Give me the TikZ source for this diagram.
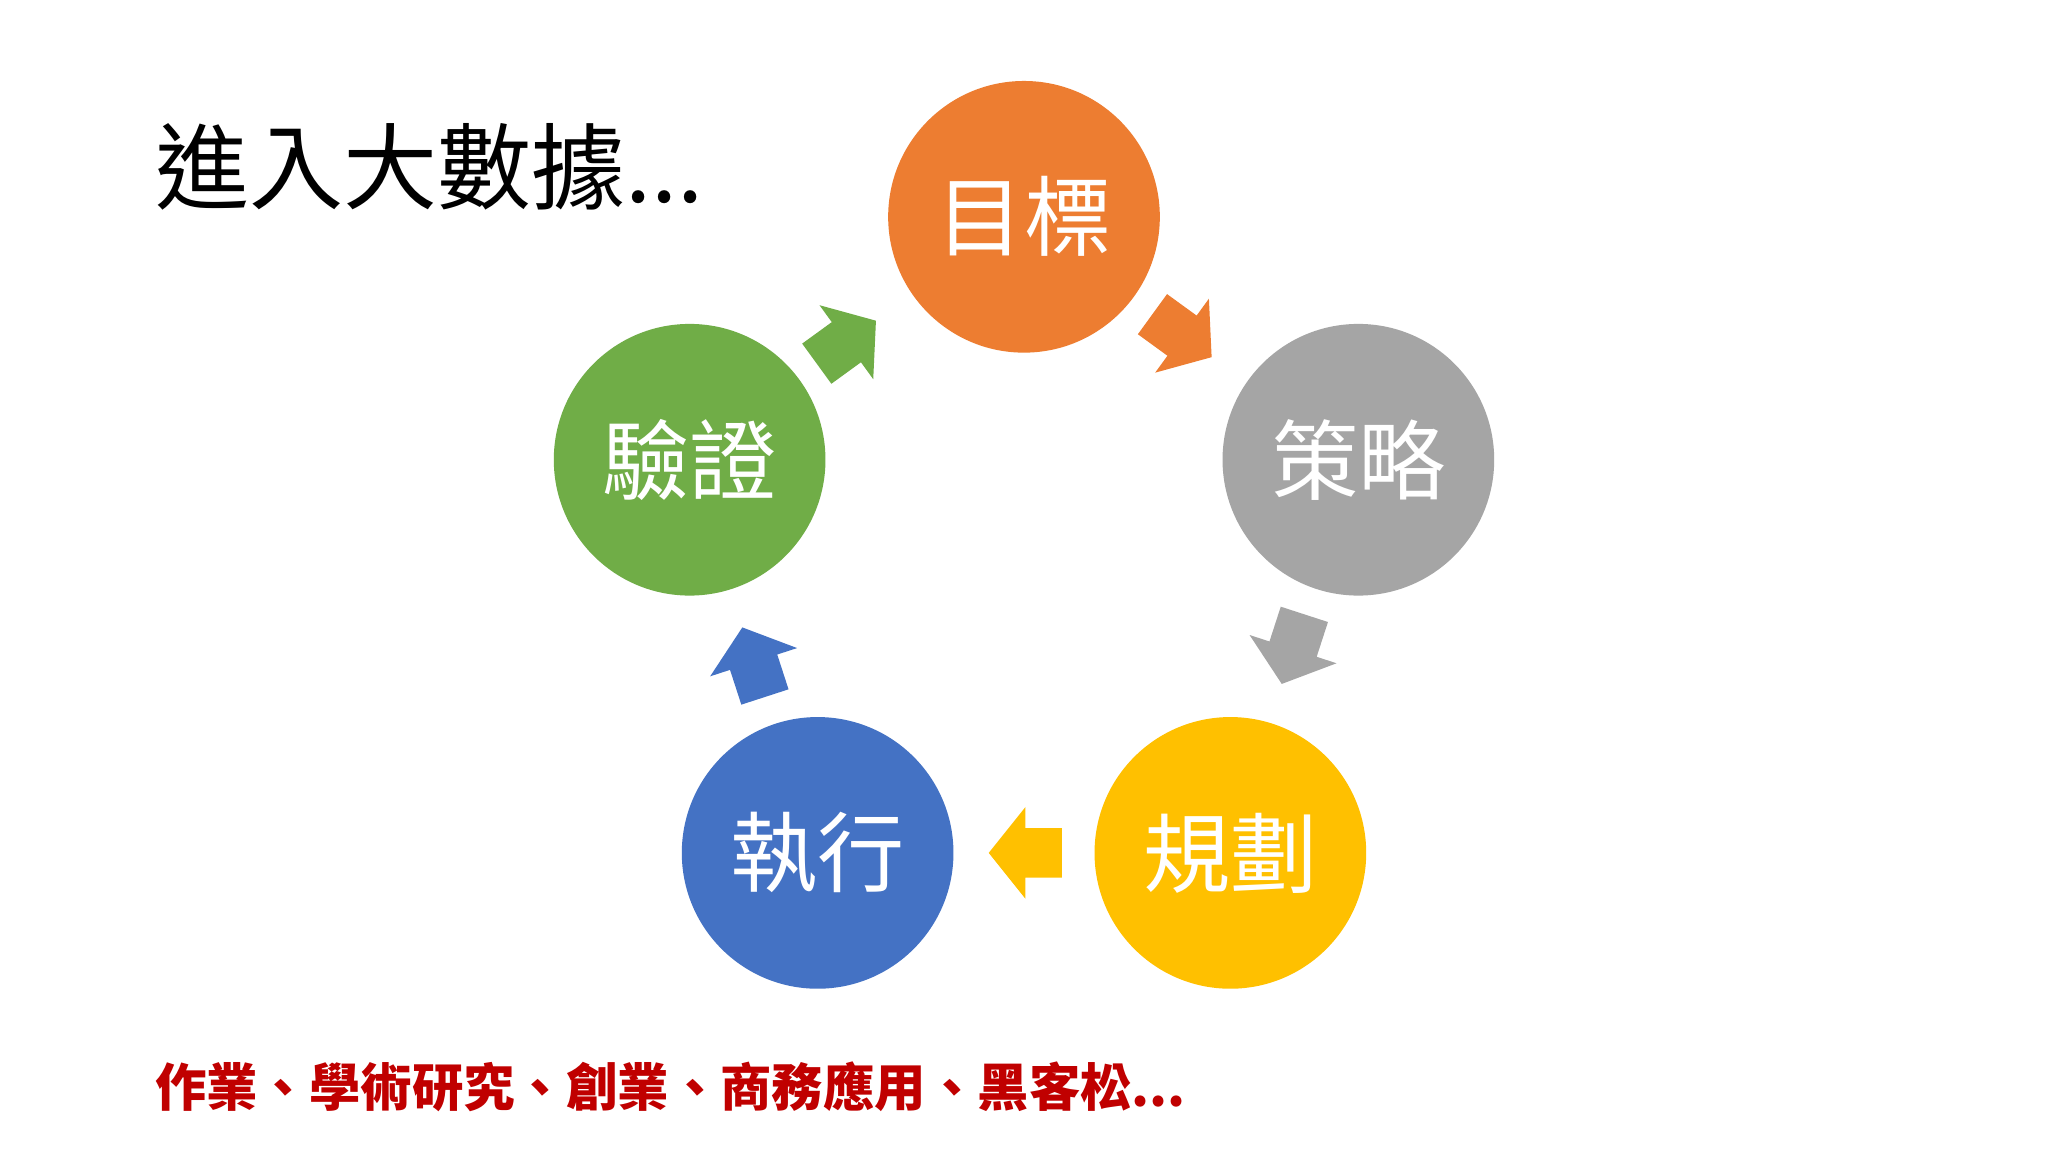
\documentclass[tikz,border=0pt]{standalone}
\usepackage{fontspec}
\newfontfamily\cjk{Noto Sans CJK TC}
\newfontfamily\cjkb{Noto Sans CJK TC Bold}
\definecolor{cor}{HTML}{ED7D31}
\definecolor{cgr}{HTML}{A5A5A5}
\definecolor{cye}{HTML}{FFC000}
\definecolor{cbl}{HTML}{4472C4}
\definecolor{cgn}{HTML}{70AD47}
\definecolor{cred}{HTML}{C00000}
\tikzset{x=0.1mm,y=0.1mm,
 circ/.style={circle,minimum size=208\pgflinewidth,inner sep=0pt,text=white,font=\cjk\fontsize{19}{22}\selectfont},
 blk/.pic={\fill[#1] (-28,-19)--(0,-19)--(0,-35)--(28,0)--(0,35)--(0,19)--(-28,19)--cycle;}}
\begin{document}
\begin{tikzpicture}
\useasboundingbox (0,0) rectangle (1568,882);
\fill[white] (0,0) rectangle (1568,882);
\foreach \n/\p/\c/\t in {a/{784,716}/cor/目標,b/{1040,530}/cgr/策略,c/{942,229}/cye/規劃,d/{626,229}/cbl/執行,e/{528,530}/cgn/驗證}{
 \fill[\c] (\p) circle (104);
 \node[text=white,font=\cjk\fontsize{19}{22}\selectfont] (\n) at (\p) {\t};
}
\pic[rotate=-36] at (905,625) {blk=cor};
\pic[rotate=-108] at (990,385) {blk=cgr};
\pic[rotate=180] at (785,229) {blk=cye};
\pic[rotate=108] at (577,375) {blk=cbl};
\pic[rotate=36] at (648,620) {blk=cgn};
\node[anchor=west,inner sep=0pt,font=\cjk\fontsize{20.5}{24}\selectfont] (title) at (118,754) {進入大數據...};
\node[anchor=west,inner sep=0pt,text=cred,font=\cjk\bfseries\fontsize{11.2}{13}\selectfont] (sub) at (118,50) {作業、學術研究、創業、商務應用、黑客松...};
\end{tikzpicture}
\end{document}
